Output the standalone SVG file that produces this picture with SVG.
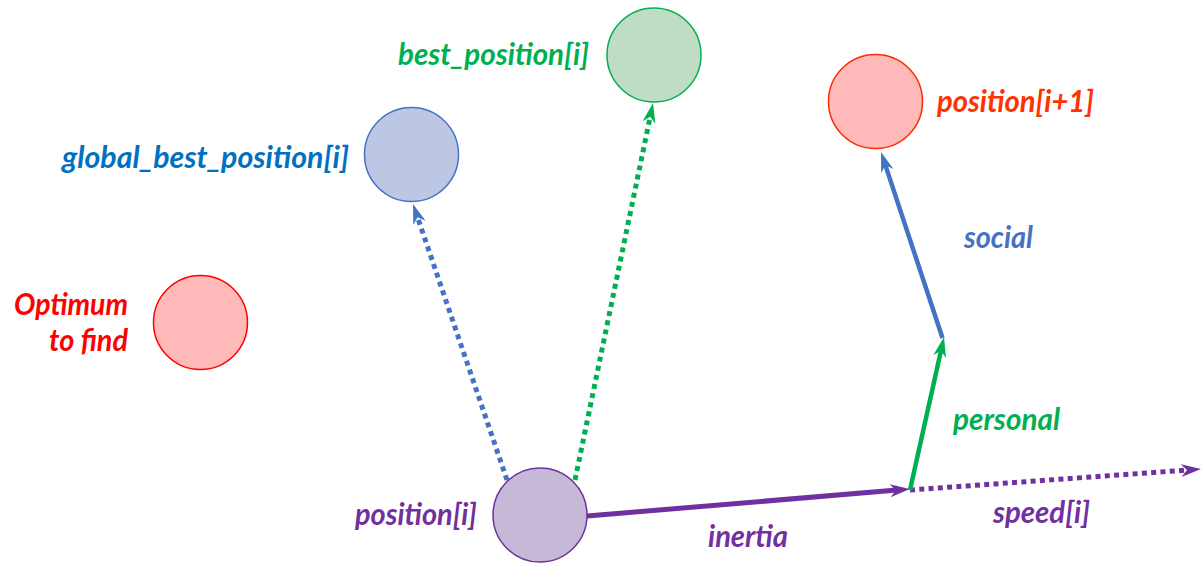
<svg xmlns="http://www.w3.org/2000/svg" width="1203" height="563" viewBox="0 0 1203 563">
<style>
text{font-family:Lato,"Liberation Sans",sans-serif;font-weight:bold;font-style:italic;font-size:30px}
.node{stroke-width:1.5}
.purple{fill:#C5B9D7;stroke:#7030A0}
.blue{fill:#BDC7E4;stroke:#4472C4}
.green{fill:#BFDDC5;stroke:#00B050}
.red{fill:#FFB9B9;stroke:#FF2A00}
.conn{fill:none;stroke-linecap:butt}
.dot{stroke-width:5;stroke-dasharray:5 4.3}
.solid{stroke-width:5}
</style>
<defs>
<marker id="aP" markerUnits="userSpaceOnUse" markerWidth="22" markerHeight="14" refX="7" refY="6.5" orient="auto" viewBox="0 0 22 14"><path d="M0,0 L20,6.5 L0,13 L6,6.5 z" fill="#7030A0"/></marker>
<marker id="aG" markerUnits="userSpaceOnUse" markerWidth="22" markerHeight="14" refX="7" refY="6.5" orient="auto" viewBox="0 0 22 14"><path d="M0,0 L20,6.5 L0,13 L6,6.5 z" fill="#00B050"/></marker>
<marker id="aB" markerUnits="userSpaceOnUse" markerWidth="22" markerHeight="14" refX="7" refY="6.5" orient="auto" viewBox="0 0 22 14"><path d="M0,0 L20,6.5 L0,13 L6,6.5 z" fill="#4472C4"/></marker>
</defs>
<g id="connectors">
<line class="conn dot" x1="507" y1="480" x2="417.2" y2="216.3" stroke="#4472C4" marker-end="url(#aB)"/>
<line class="conn dot" x1="575" y1="480" x2="650.4" y2="115.7" stroke="#00B050" marker-end="url(#aG)"/>
<line class="conn dot" x1="910" y1="490" x2="1188" y2="470" stroke="#7030A0" marker-end="url(#aP)"/>
<line class="conn solid" x1="587" y1="516" x2="897" y2="490.1" stroke="#7030A0" marker-end="url(#aP)"/>
<line class="conn" x1="910" y1="490" x2="941.2" y2="349.7" stroke="#00B050" stroke-width="4.5" marker-end="url(#aG)"/>
<line class="conn" x1="942.5" y1="338" x2="885.1" y2="164.4" stroke="#4472C4" stroke-width="4.5" marker-end="url(#aB)"/>
</g>
<g id="position_i">
<circle class="node purple" cx="540" cy="515" r="47"/>
<text x="355" y="525" fill="#7030A0" textLength="122" lengthAdjust="spacingAndGlyphs">position[i]</text>
</g>
<g id="global_best_position">
<circle class="node blue" cx="411.5" cy="154.5" r="47"/>
<text x="62" y="168" fill="#0070C0" textLength="287" lengthAdjust="spacingAndGlyphs">global_best_position[i]</text>
</g>
<g id="best_position">
<circle class="node green" cx="654" cy="55" r="47"/>
<text x="398" y="65" fill="#00B050" textLength="191" lengthAdjust="spacingAndGlyphs">best_position[i]</text>
</g>
<g id="position_next">
<circle class="node red" cx="875.5" cy="101.5" r="47"/>
<text x="937" y="112" fill="#FF3300" textLength="157" lengthAdjust="spacingAndGlyphs">position[i+1]</text>
</g>
<g id="optimum">
<circle class="node red" cx="200.5" cy="322.5" r="47" style="stroke:#FF0000"/>
<text x="128" y="315" fill="#FF0000" text-anchor="end" textLength="114" lengthAdjust="spacingAndGlyphs">Optimum</text>
<text x="128" y="351" fill="#FF0000" text-anchor="end" textLength="79" lengthAdjust="spacingAndGlyphs">to find</text>
</g>
<g id="labels">
<text x="708" y="547" fill="#7030A0" textLength="80" lengthAdjust="spacingAndGlyphs">inertia</text>
<text x="993" y="523" fill="#7030A0" textLength="97" lengthAdjust="spacingAndGlyphs">speed[i]</text>
<text x="964" y="248" fill="#4472C4" textLength="69" lengthAdjust="spacingAndGlyphs">social</text>
<text x="953" y="430" fill="#00B050" textLength="107" lengthAdjust="spacingAndGlyphs">personal</text>
</g>
</svg>
